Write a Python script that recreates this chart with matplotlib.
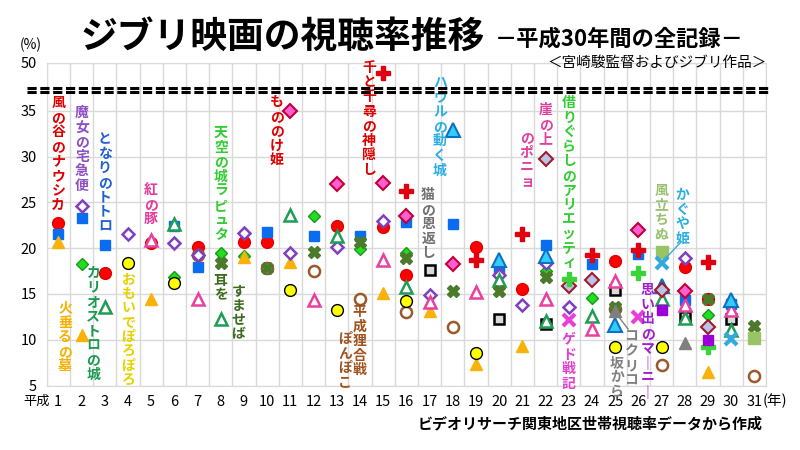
import numpy as np
import matplotlib
matplotlib.use("Agg")
import matplotlib.pyplot as plt
from matplotlib.lines import Line2D
from matplotlib.transforms import blended_transform_factory

plt.rcParams['font.family'] = ['Noto Sans CJK JP', 'DejaVu Sans']

W, H = 800, 450
years = list(range(1, 32))
ytick_vals = [5, 10, 15, 20, 25, 30, 35, 50]

# 視聴率データ (平成の年, %)
nausicaa_x = [1, 3, 5, 7, 9, 10, 13, 15, 16, 19, 21, 25, 28, 29]
nausicaa_y = [22.7, 17.3, 20.6, 20.1, 20.7, 20.7, 22.4, 22.3, 17.1, 20.1, 15.5, 18.6, 18.0, 14.5]
totoro_x = [1, 2, 3, 6, 7, 10, 12, 14, 16, 18, 20, 22, 24, 26, 28, 30]
totoro_y = [21.6, 23.3, 20.4, 22.4, 18.0, 21.8, 21.3, 21.3, 22.9, 22.6, 17.7, 20.4, 18.3, 19.4, 14.3, 13.9]
laputa_x = [2, 6, 8, 9, 12, 14, 16, 22, 24, 29]
laputa_y = [18.3, 16.8, 19.5, 19.2, 23.5, 19.9, 19.5, 17.5, 14.6, 12.7]
hotaru_x = [1, 2, 5, 9, 11, 15, 17, 19, 21, 29]
hotaru_y = [20.7, 10.5, 14.4, 19.0, 18.5, 15.1, 13.1, 7.4, 9.3, 6.5]
ponpoko_x = [7, 10, 12, 14, 16, 18, 25, 27, 31]
ponpoko_y = [19.3, 17.8, 17.5, 14.4, 13.0, 11.4, 13.4, 7.2, 6.0]
majo_x = [2, 4, 6, 7, 9, 11, 13, 15, 17, 20, 21, 22, 23, 28]
majo_y = [24.6, 21.6, 20.6, 19.3, 21.7, 19.5, 20.1, 23.0, 14.9, 17.1, 13.8, 18.4, 13.6, 18.9]
neko_x = [17, 20, 22, 25, 28, 30]
neko_y = [17.6, 12.3, 11.7, 15.4, 12.5, 12.3]
cagliostro_x = [3, 6, 8, 11, 13, 16, 20, 22, 24, 27, 28, 30]
cagliostro_y = [13.6, 22.6, 12.3, 23.6, 21.3, 15.8, 16.5, 12.0, 12.6, 14.4, 12.4, 11.1]
omoide_x = [4, 6, 11, 13, 16, 19, 25, 27]
omoide_y = [18.4, 16.2, 15.4, 13.3, 14.2, 8.5, 9.2, 9.2]
buta_x = [5, 7, 12, 15, 17, 19, 22, 24, 25, 28, 30]
buta_y = [20.9, 14.5, 14.3, 18.7, 14.1, 15.2, 14.4, 11.2, 16.4, 13.8, 13.2]
mimi_x = [8, 10, 12, 14, 16, 18, 20, 22, 25, 29, 31]
mimi_y = [18.4, 17.8, 19.6, 20.7, 18.9, 15.3, 15.3, 16.9, 13.6, 14.4, 11.5]
mononoke_x = [11, 13, 15, 16, 18, 26, 28]
mononoke_y = [35.1, 27.0, 27.1, 23.5, 18.3, 22.0, 15.3]
chihiro_x = [15, 16, 19, 21, 24, 26, 29]
chihiro_y = [46.9, 26.2, 18.7, 21.6, 19.3, 19.8, 18.5]
howl_x = [18, 20, 22, 25, 27, 30]
howl_y = [32.9, 18.7, 19.1, 11.6, 15.9, 14.3]
ponyo_x = [22, 23, 24, 27, 29]
ponyo_y = [29.8, 15.9, 16.5, 15.4, 11.4]
ged_x = [23, 26]
ged_y = [12.2, 12.5]
arrietty_x = [23, 26, 29]
arrietty_y = [16.6, 17.3, 9.2]
kokuriko_x = [25, 28]
kokuriko_y = [13.1, 9.6]
kazetachinu_x = [27, 31]
kazetachinu_y = [19.6, 10.2]
kaguya_x = [27, 30]
kaguya_y = [18.4, 10.1]
marnie_x = [27, 29]
marnie_y = [13.3, 10.0]

fig = plt.figure(figsize=(8, 4.5), dpi=100)
fig.patch.set_facecolor('white')
ax = fig.add_axes([46.7 / W, 1 - 385.5 / H, (766 - 46.7) / W, (385.5 - 63) / H])


# 35%より上は圧縮 (軸の省略)
def fwd(v):
    v = np.asarray(v, dtype=float)
    return np.where(v <= 35, v, 35 + (v - 35) * 0.349)


def inv(d):
    d = np.asarray(d, dtype=float)
    return np.where(d <= 35, d, 35 + (d - 35) / 0.349)


ax.set_yscale('function', functions=(fwd, inv))
ax.set_ylim(5, 50)
ax.set_xlim(0.5, 31.5)
ax.set_yticks(ytick_vals)
ax.set_yticklabels([str(v) for v in ytick_vals])
ax.set_xticks(years)
ax.set_xticklabels([str(v) for v in years])
ax.set_xticks(np.arange(0.5, 32, 1), minor=True)
ax.yaxis.set_minor_locator(plt.NullLocator())
ax.grid(True, which='minor', axis='x', color='#d9d9d9', lw=1)
ax.grid(True, which='major', axis='y', color='#d9d9d9', lw=1)
ax.grid(False, which='major', axis='x')
ax.tick_params(which='both', length=0)
ax.tick_params(axis='x', labelsize=10.5, pad=7)
ax.tick_params(axis='y', labelsize=10.5, pad=7)
for s in ax.spines.values():
    s.set_color('#d9d9d9')
ax.set_axisbelow(True)

# series: x, y, marker, face, edge, size, edge width
series = [
    (nausicaa_x, nausicaa_y, 'o', '#ff0000', '#e00000', 8.5, 1),
    (totoro_x, totoro_y, 's', '#0a6cf0', '#0a6cf0', 7.5, 1),
    (laputa_x, laputa_y, 'D', '#22dd22', '#169a16', 6.5, 1),
    (hotaru_x, hotaru_y, '^', '#f9b20a', '#f9b20a', 8.5, 1),
    (ponpoko_x, ponpoko_y, 'o', 'white', '#9c5a2a', 8, 1.8),
    (majo_x, majo_y, 'D', 'white', '#7f3fbf', 6.5, 1.8),
    (neko_x, neko_y, 's', '#d9d9d9', 'black', 7.5, 1.8),
    (cagliostro_x, cagliostro_y, '^', 'white', '#1f9d55', 8, 1.8),
    (omoide_x, omoide_y, 'o', '#ffff00', 'black', 8.5, 1),
    (buta_x, buta_y, '^', 'white', '#e8409f', 8.5, 1.8),
    (mimi_x, mimi_y, 'X', '#4b7a2b', '#4b7a2b', 9, 1),
    (mononoke_x, mononoke_y, 'D', '#ff5fd0', '#c0003a', 7, 1.5),
    (chihiro_x, chihiro_y, 'P', '#e00010', '#e00010', 9.5, 1),
    (howl_x, howl_y, '^', '#33ccff', '#1070c0', 9.5, 1.5),
    (ponyo_x, ponyo_y, 'D', '#b8c4e8', '#a01a2a', 7, 1.5),
    (ged_x, ged_y, 'x', '#e83fd8', '#e83fd8', 8, 3),
    (arrietty_x, arrietty_y, 'P', '#3ad43a', '#3ad43a', 9.5, 1),
    (kokuriko_x, kokuriko_y, '^', '#7f7f7f', '#7f7f7f', 8.5, 1),
    (kazetachinu_x, kazetachinu_y, 's', '#99c466', '#99c466', 8, 1),
    (kaguya_x, kaguya_y, 'x', '#33aadd', '#33aadd', 8, 3),
    (marnie_x, marnie_y, 's', '#9b00d9', '#9b00d9', 7.5, 1),
]
for i, (sx, sy, mk, fc, ec, ms, mew) in enumerate(series):
    ax.plot(sx, sy, linestyle='none', marker=mk, markerfacecolor=fc,
            markeredgecolor=ec, markersize=ms, markeredgewidth=mew,
            clip_on=False, zorder=3 + i * 0.01)

# vertical labels (x: year, y: pixel top)
tr = blended_transform_factory(ax.transData, fig.transFigure)


def vlabel(text, xd, ytop, color, size=10):
    s = '\n'.join(text.replace('ー', '｜'))
    ax.text(xd, 1 - ytop / H, s, transform=tr, ha='center', va='top',
            color=color, fontsize=size, fontweight='bold', linespacing=1.05,
            zorder=5)


vlabel('風の谷のナウシカ', 1.0, 96, '#dd0000')
vlabel('魔女の宅急便', 2.02, 106, '#8c4fc4')
vlabel('となりのトトロ', 3.0, 132, '#2060d0')
vlabel('紅の豚', 4.98, 183, '#e23c9c')
vlabel('天空の城ラピュタ', 8.0, 126, '#33cc33')
vlabel('もののけ姫', 10.41, 95, '#dd0000')
vlabel('千と千尋の神隠し', 14.4, 61, '#dd0000')
vlabel('ハウルの動く城', 17.45, 76, '#2aaee0')
vlabel('猫の恩返し', 16.94, 188, '#707070')
vlabel('崖の上', 22.0, 103, '#e040a0')
vlabel('のポニョ', 21.19, 131, '#e040a0')
vlabel('借りぐらしのアリエッティ', 23.02, 96, '#33cc33')
vlabel('風立ちぬ', 27.0, 184, '#99c070')
vlabel('かぐや姫', 27.9, 188, '#2aaee0')
vlabel('火垂るの墓', 1.29, 301, '#f5b000')
vlabel('カリオストロの城', 2.51, 266, '#1a9a50')
vlabel('おもいでぽろぽろ', 4.02, 272, '#e6d200')
vlabel('耳を', 8.0, 274, '#3d6b20')
vlabel('すませば', 8.76, 284, '#3d6b20')
vlabel('平成狸合戦', 13.97, 305, '#a0521e')
vlabel('ぽんぽこ', 13.36, 332, '#a0521e')
vlabel('ゲド戦記', 23.0, 333, '#e040d0')
vlabel('コクリコ', 25.7, 330, '#808080')
vlabel('坂から', 25.07, 356, '#808080')
vlabel('思い出のマーニー', 26.4, 283, '#a020d0')


def px(x, y):
    return x / W, 1 - y / H


# leader lines
for (x0, y0), (x1, y1), c in [((615, 312), (628, 329), '#808080'),
                              ((681, 242), (663, 261), '#33aadd')]:
    a, b = px(x0, y0)
    c0, d = px(x1, y1)
    fig.add_artist(Line2D([a, c0], [b, d], transform=fig.transFigure,
                          color=c, lw=1))

# axis break dashes
for yy in (88, 92.5):
    fig.add_artist(Line2D([27 / W, 770 / W], [1 - yy / H] * 2,
                          transform=fig.transFigure, color='black', lw=2.2,
                          linestyle=(0, (3, 1.2)), zorder=6))

# titles and notes
fig.text(80 / W, 1 - 37 / H, 'ジブリ映画の視聴率推移', fontsize=26.5,
         fontweight='bold', ha='left', va='center', color='black')
fig.text(495 / W, 1 - 39 / H, '－平成30年間の全記録－', fontsize=16,
         fontweight='bold', ha='left', va='center', color='black')
fig.text(767 / W, 1 - 63 / H, '＜宮崎駿監督およびジブリ作品＞', fontsize=10.5,
         ha='right', va='center', color='black')
fig.text(31 / W, 1 - 45 / H, '(%)', fontsize=10, ha='center', va='center')
fig.text(37 / W, 1 - 401 / H, '平成', fontsize=9.5, ha='center', va='center')
fig.text(763 / W, 1 - 401 / H, '(年)', fontsize=10.5, ha='left', va='center')
fig.text(763 / W, 1 - 423 / H, 'ビデオリサーチ関東地区世帯視聴率データから作成',
         fontsize=10.8, fontweight='bold', ha='right', va='center')

fig.savefig('out.png', dpi=100)
